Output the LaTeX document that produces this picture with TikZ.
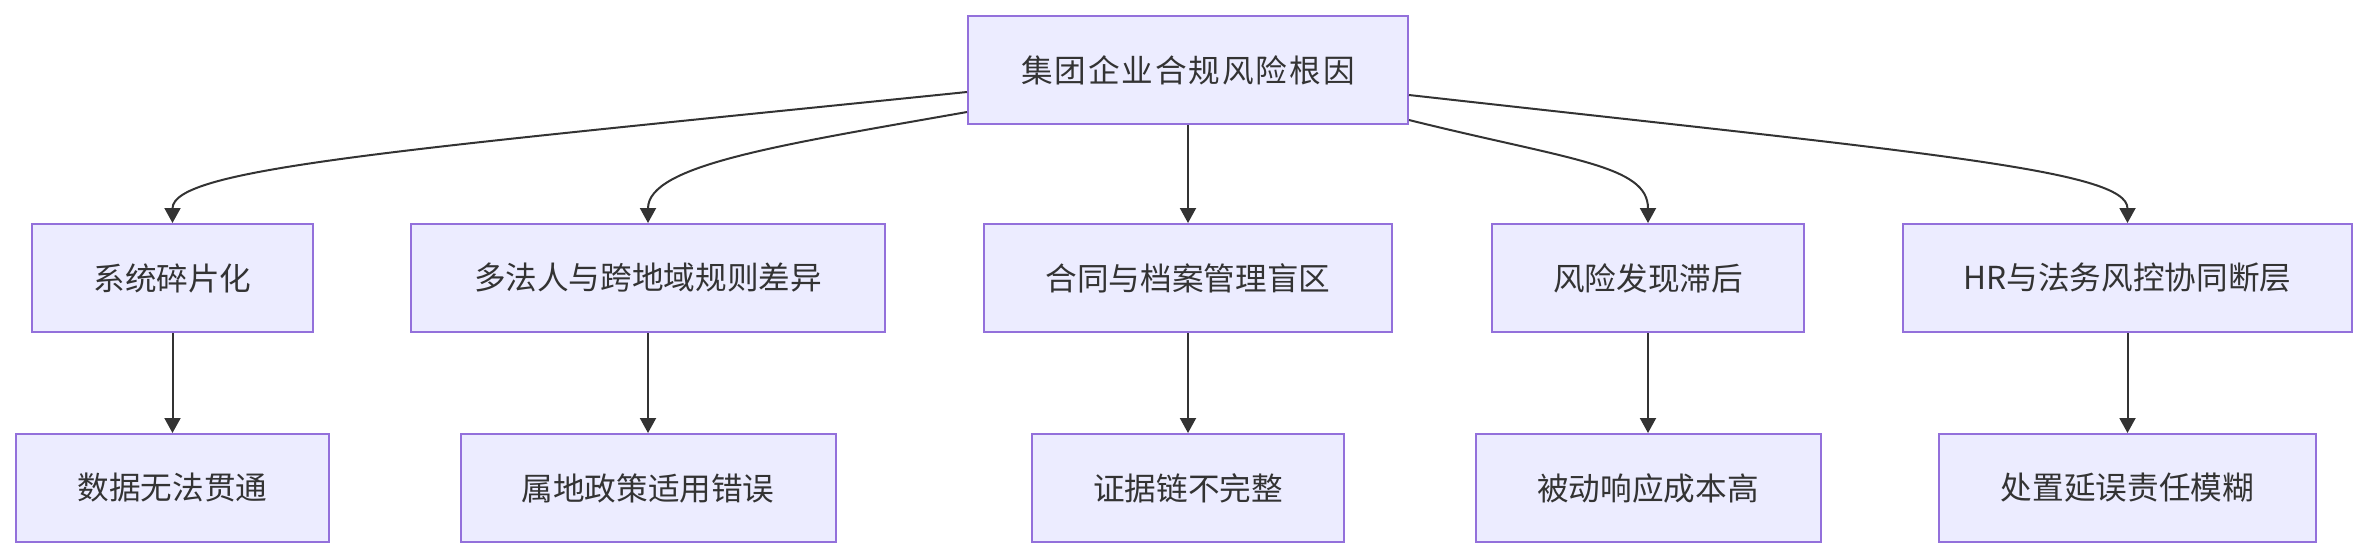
\documentclass[tikz,border=0pt]{standalone}
\usepackage{fontspec}
\newfontfamily\cjkfont{Noto Sans CJK SC}
\newfontfamily\cjkwide[LetterSpace=6]{Noto Sans CJK SC}
\usepackage{xcolor}
\usetikzlibrary{arrows.meta, positioning}
\definecolor{boxfill}{HTML}{ECECFF}
\definecolor{boxline}{HTML}{9370DB}
\definecolor{inkgray}{HTML}{333333}
\tikzset{
  cause/.style={draw=boxline, fill=boxfill, line width=0.2mm, inner sep=0pt,
    minimum height=10.8mm, text=inkgray, font=\cjkfont\fontsize{9pt}{11pt}\selectfont},
  link/.style={draw=inkgray, line width=0.2mm, -{Triangle[length=1.5mm,width=1.6mm]}},
}

\begin{document}
\begin{tikzpicture}[x=0.1mm, y=-0.1mm, node distance=10mm]
        \useasboundingbox (0,0) rectangle (2367,556);
        % root
        \node[cause, minimum width=44mm, font=\cjkwide\fontsize{9pt}{11pt}\selectfont] (root) at (1188,70) {集团企业合规风险根因};

        % causes
        \node[cause, minimum width=28.1mm] (frag) at (172.5,278) {系统碎片化};
        \node[cause, minimum width=47.4mm] (multi) at (648,278) {多法人与跨地域规则差异};
        \node[cause, minimum width=40.8mm] (contract) at (1188,278) {合同与档案管理盲区};
        \node[cause, minimum width=31.2mm] (lag) at (1648,278) {风险发现滞后};
        \node[cause, minimum width=44.9mm] (hr) at (2127.5,278) {HR与法务风控协同断层};

        % effects
        \node[cause, minimum width=31.3mm, below=of frag] (data) {数据无法贯通};
        \node[cause, minimum width=37.5mm, below=of multi] (policy) {属地政策适用错误};
        \node[cause, minimum width=31.2mm, below=of contract] (evidence) {证据链不完整};
        \node[cause, minimum width=34.5mm, below=of lag] (cost) {被动响应成本高};
        \node[cause, minimum width=37.7mm, below=of hr] (delay) {处置延误责任模糊};

        \draw[link] ([yshift=-2.2mm]root.west) .. controls (400,150) and (172.5,168) .. (frag.north);
        \draw[link] ([yshift=-4.2mm]root.west) .. controls (780,145) and (648,165) .. (multi.north);
        \draw[link] (root) -- (contract);
        \draw[link] ([yshift=-5mm]root.east) .. controls (1570,160) and (1648,165) .. (lag.north);
        \draw[link] ([yshift=-2.5mm]root.east) .. controls (1928,153) and (2127.5,170) .. (hr.north);

        \draw[link] (frag) -- (data);
        \draw[link] (multi) -- (policy);
        \draw[link] (contract) -- (evidence);
        \draw[link] (lag) -- (cost);
        \draw[link] (hr) -- (delay);
\end{tikzpicture}
\end{document}
